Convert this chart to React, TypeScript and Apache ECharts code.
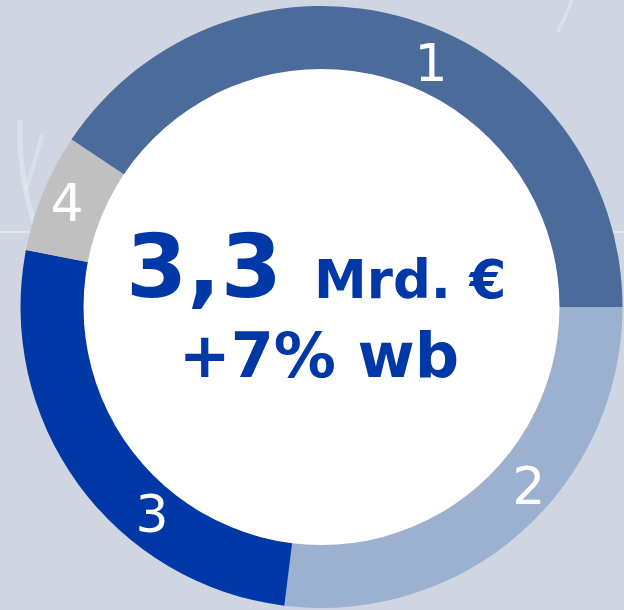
import React, { useEffect, useRef } from "react";
import * as echarts from "echarts";

// ---- data ----
const categories = ["1", "2", "3", "4"];
const values = [1.34, 0.89, 0.86, 0.21]; // Mrd. €, total 3,3
const totalLabel = "3,3";
const unitLabel = "Mrd. €";
const growthLabel = "+7% wb";

// ---- styles ----
const COLORS = ["#4b6b9a", "#9cb0cf", "#0038a8", "#c0c0c0"];
const TEXT_BLUE = "#0038a8";
const BG = "#cfd6e2";
const CX = 321.5;
const CY = 307;
const R_IN = 237;
const R_OUT = 301;
// label placement (polar angle in degrees, radius) per slice
const LABEL_ANGLES = [65.8, -40.8, -129.3, 157.7];
const LABEL_RADII = [267, 274, 267.5, 275];
const FONT = '"DejaVu Sans", Verdana, sans-serif';

export default function App() {
  const ref = useRef<HTMLDivElement>(null);
  useEffect(() => {
    if (!ref.current) return;
    const chart = echarts.init(ref.current, undefined, { renderer: "svg" });
    const sum = values.reduce((a, b) => a + b, 0);
    const startAngle = (360 * values[0]) / sum;
    chart.setOption({
      animation: false,
      backgroundColor: BG,
      graphic: [
        {
          type: "line",
          z: -10,
          silent: true,
          shape: { x1: 0, y1: 232, x2: 624, y2: 232 },
          style: { stroke: "rgba(255,255,255,0.85)", lineWidth: 1 },
        },
        {
          type: "bezierCurve",
          z: -10,
          silent: true,
          shape: { x1: 20, y1: 120, x2: 36, y2: 230, cpx1: 18, cpy1: 170, cpx2: 30, cpy2: 210 },
          style: { stroke: "rgba(235,240,250,0.45)", lineWidth: 5, fill: "none" },
        },
        {
          type: "bezierCurve",
          z: -10,
          silent: true,
          shape: { x1: 42, y1: 135, x2: 26, y2: 190, cpx1: 36, cpy1: 160, cpx2: 30, cpy2: 175 },
          style: { stroke: "rgba(235,240,250,0.4)", lineWidth: 4, fill: "none" },
        },
        {
          type: "bezierCurve",
          z: -10,
          silent: true,
          shape: { x1: 572, y1: 0, x2: 558, y2: 32, cpx1: 568, cpy1: 12, cpx2: 562, cpy2: 22 },
          style: { stroke: "rgba(235,240,250,0.45)", lineWidth: 3, fill: "none" },
        },
        {
          type: "circle",
          z: 5,
          silent: true,
          shape: { cx: CX, cy: CY, r: R_IN + 1 },
          style: { fill: "#ffffff" },
        },
        {
          type: "text",
          z: 10,
          x: 282,
          y: 266,
          style: {
            text: totalLabel,
            fill: TEXT_BLUE,
            font: `bold 88px ${FONT}`,
            align: "right",
            verticalAlign: "middle",
          },
        },
        {
          type: "text",
          z: 10,
          x: 314,
          y: 279,
          style: {
            text: unitLabel,
            fill: TEXT_BLUE,
            font: `bold 53px ${FONT}`,
            align: "left",
            verticalAlign: "middle",
          },
        },
        {
          type: "text",
          z: 10,
          x: 319,
          y: 355,
          style: {
            text: growthLabel,
            fill: TEXT_BLUE,
            font: `bold 62px ${FONT}`,
            align: "center",
            verticalAlign: "middle",
          },
        },
      ],
      series: [
        {
          type: "pie",
          center: [CX, CY],
          radius: [R_IN, R_OUT],
          startAngle,
          clockwise: true,
          avoidLabelOverlap: false,
          itemStyle: { borderWidth: 0 },
          emphasis: { disabled: true },
          label: {
            show: true,
            position: "inside",
            formatter: "{b}",
            color: "#ffffff",
            fontFamily: FONT,
            fontSize: 52,
            fontWeight: "normal",
          },
          labelLine: { show: false },
          labelLayout: (params: any) => {
            const i = params.dataIndex;
            const a = (LABEL_ANGLES[i] * Math.PI) / 180;
            const r = LABEL_RADII[i];
            return {
              x: CX + r * Math.cos(a),
              y: CY - r * Math.sin(a),
              align: "center",
              verticalAlign: "middle",
            };
          },
          data: categories.map((c, i) => ({
            name: c,
            value: values[i],
            itemStyle: { color: COLORS[i] },
          })),
        },
      ],
    });
    return () => chart.dispose();
  }, []);
  return (
    <div
      ref={ref}
      style={{ position: "absolute", left: 0, top: 0, width: 624, height: 610 }}
    />
  );
}
